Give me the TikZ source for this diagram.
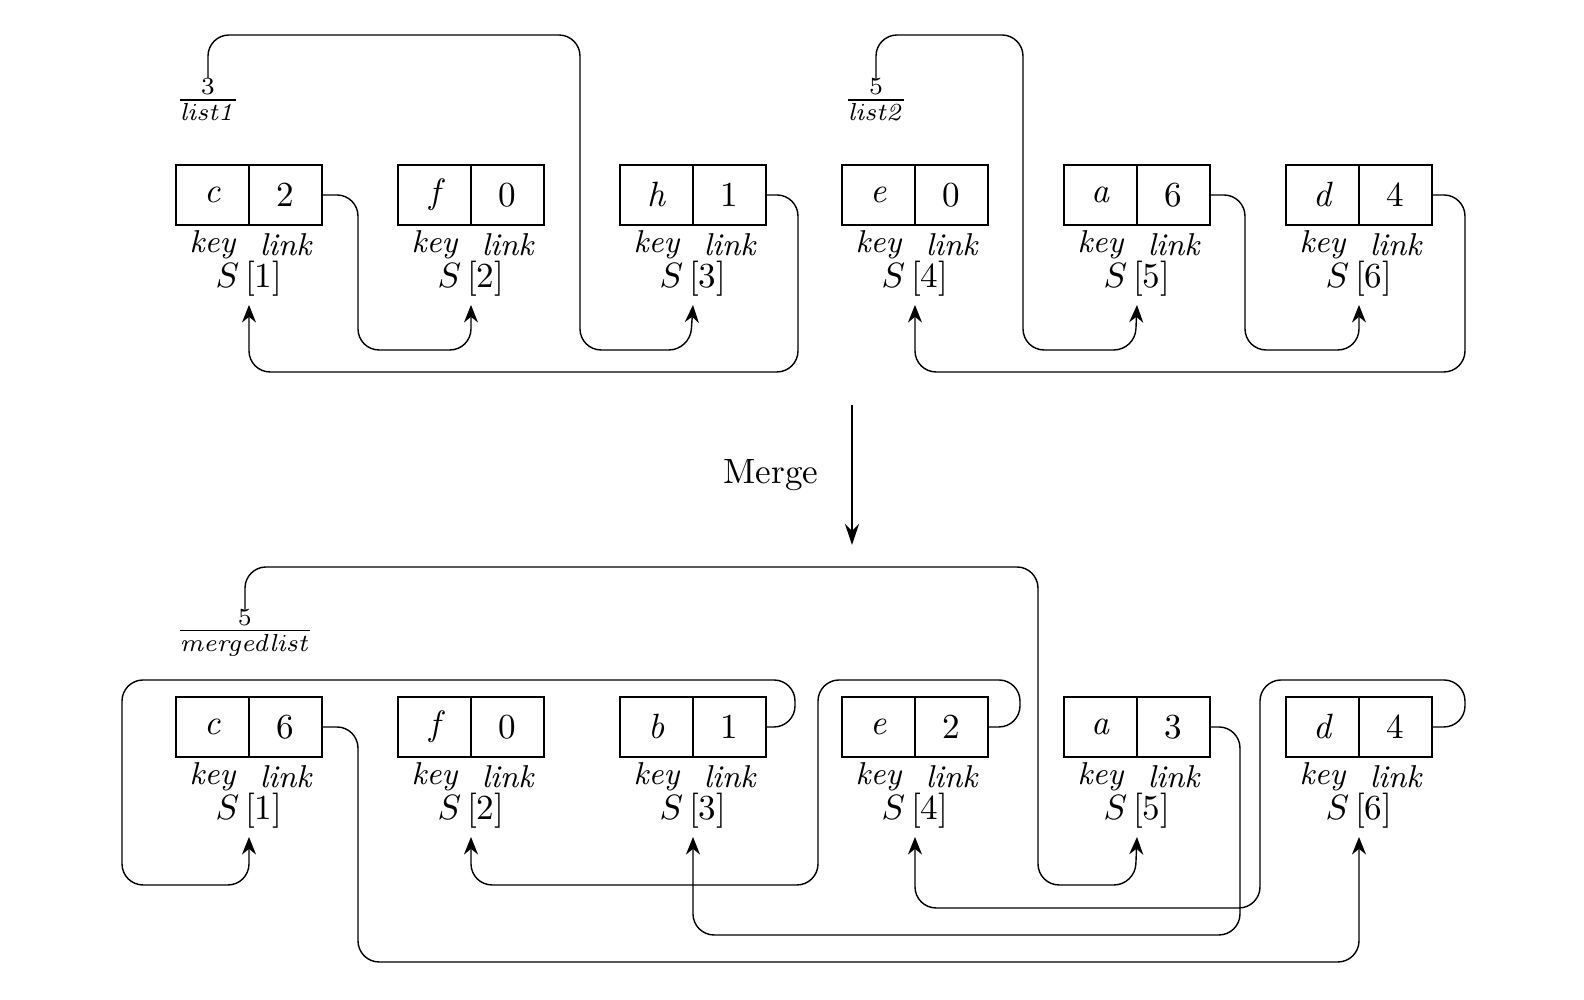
\documentclass[tikz,border=0pt]{standalone}
\usepackage{amsmath}
\usetikzlibrary{arrows.meta}
\begin{document}
\begin{tikzpicture}[
		cell/.style={rectangle, draw, minimum width=0.73cm, minimum height=0.6cm, inner sep=0pt, outer sep=0pt, font=\normalsize},
		lbl/.style={inner sep=0pt, font=\normalsize},
		link/.style={-{Stealth[length=5pt,width=4pt]}, rounded corners=6pt},
		arrow/.style={-{Stealth[length=6pt,width=4pt]}}
	]
	\useasboundingbox (0,0) rectangle (15.84,10);
	% Records before and after the merge
	\foreach \p/\y/\keys/\links in {a/8.05/{c,f,h,e,a,d}/{2,0,1,0,6,4}, b/2.73/{c,f,b,e,a,d}/{6,0,1,2,3,4}}{
		\foreach \k [count=\i] in \keys{
			\pgfmathsetmacro{\x}{1.76+2.22*(\i-1)}
			\node[cell, font=\normalsize\itshape] (\p-k\i) at (\x+0.365,\y) {\k};
			\node[lbl, font=\small\itshape] at (\x+0.365,\y-0.50) {key};
			\node[lbl, font=\small\itshape] at (\x+1.095,\y-0.50) {link};
			\node[lbl] (\p-s\i) at (\x+0.73,\y-0.84) {$S\,$[\i]};
			\coordinate (\p-t\i) at (\x+0.73,\y-1.1);
		}
		\foreach \l [count=\i] in \links{
			\node[cell, anchor=west] (\p-l\i) at (\p-k\i.east) {\l};
		}
	}

	% Before
	\node[lbl] (list1) at (2.08,9.0) {$\tfrac{3}{\mathit{list1}}$};
	\node[lbl] (list2) at (8.76,9.0) {$\tfrac{5}{\mathit{list2}}$};
	\draw[link] (list1.north) |- (5.80,9.65) |- (6.90,6.50) -- (a-t3);
	\draw[link] (list2.north) |- (10.23,9.65) |- (11.35,6.50) -- (a-t5);
	\draw[link] (a-l1.east) -| (3.58,6.50) -| (a-t2);
	\draw[link] (a-l3.east) -| (7.98,6.28) -| (a-t1);
	\draw[link] (a-l5.east) -| (12.45,6.50) -| (a-t6);
	\draw[link] (a-l6.east) -| (14.65,6.28) -| (a-t4);

	% Merge
	\coordinate (m1) at (8.52,5.95);
	\coordinate (m2) at (8.52,4.55);
	\draw[arrow] (m1) -- (m2) node[midway, left=6pt] {Merge};

	% After
	\node[lbl] (merged) at (2.45,3.67) {$\tfrac{5}{\mathit{mergedlist}}$};
	\draw[link] (merged.north) |- (10.38,4.33) |- (11.35,1.15) -- (b-t5);
	\draw[link] (b-l1.east) -| (3.58,0.38) -| (b-t6);
	\draw[link] (b-l3.east) -| (7.95,3.20) -| (1.22,1.15) -| (b-t1);
	\draw[link] (b-l4.east) -| (10.20,3.20) -| (8.18,1.15) -| (b-t2);
	\draw[link] (b-l5.east) -| (12.40,0.65) -| (b-t3);
	\draw[link] (b-l6.east) -| (14.65,3.20) -| (12.60,0.92) -| (b-t4);
\end{tikzpicture}
\end{document}
